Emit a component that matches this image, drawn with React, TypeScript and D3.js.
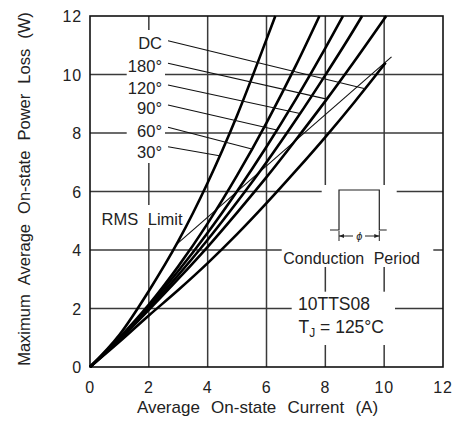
import { useEffect, useRef } from "react";
import * as d3 from "d3";

const currentTicks = [0, 2, 4, 6, 8, 10, 12];
const powerTicks = [0, 2, 4, 6, 8, 10, 12];

// average on-state current (A) -> max average power loss (W)
const curve30 = [[0, 0], [1, 1.1], [2, 2.6], [3, 4.3], [4, 6.3], [5, 8.6], [6, 11.2], [6.3, 12]];
const curve60 = [[0, 0], [1, 1.0], [2, 2.13], [3, 3.44], [4, 4.91], [5, 6.55], [6, 8.35], [7, 10.31], [7.8, 12]];
const curve90 = [[0, 0], [1, 0.97], [2, 2.08], [3, 3.28], [4, 4.59], [5, 6.01], [6, 7.53], [7, 9.16], [8, 10.9], [8.6, 12]];
const curve120 = [[0, 0], [1, 0.95], [2, 2.01], [3, 3.14], [4, 4.35], [5, 5.64], [6, 7.0], [7, 8.45], [8, 9.98], [9, 11.58], [9.25, 12]];
const curve180 = [[0, 0], [1, 0.93], [2, 1.95], [3, 3.01], [4, 4.11], [5, 5.28], [6, 6.49], [7, 7.77], [8, 9.09], [9, 10.47], [10.07, 12]];
const curveDC = [[0, 0], [1, 0.86], [2, 1.76], [3, 2.63], [4, 3.55], [5, 4.54], [6, 5.6], [7, 6.71], [8, 7.86], [9, 9.07], [10.05, 10.4]];

const rmsLimit = [[2.95, 4.2], [10.25, 10.6]];

const curveNames = ["DC", "180°", "120°", "90°", "60°", "30°"];
const curveSeries = [curveDC, curve180, curve120, curve90, curve60, curve30];
// current where each leader line touches its curve
const leaderAt = [9.35, 8.05, 7.14, 6.35, 5.5, 4.4];

const font = "'Liberation Sans', Arial, sans-serif";
const ink = "#222";

// linear read of a curve at current i
function powerAt(curve: number[][], i: number) {
  for (let k = 1; k < curve.length; k++) {
    if (i <= curve[k][0]) {
      const [x0, y0] = curve[k - 1];
      const [x1, y1] = curve[k];
      return y0 + ((i - x0) / (x1 - x0)) * (y1 - y0);
    }
  }
  return curve[curve.length - 1][1];
}

export default function App() {
  const ref = useRef<SVGSVGElement>(null);

  useEffect(() => {
    document.body.style.margin = "0";
    const width = 460;
    const height = 434;
    const margin = { top: 16, right: 17, bottom: 67, left: 90 };

    const svg = d3.select(ref.current).attr("width", width).attr("height", height);
    svg.selectAll("*").remove();

    const x = d3.scaleLinear().domain([0, 12]).range([margin.left, width - margin.right]);
    const y = d3.scaleLinear().domain([0, 12]).range([height - margin.bottom, margin.top]);

    svg.append("rect").attr("width", width).attr("height", height).attr("fill", "#fff");

    // grid
    const grid = svg.append("g").attr("stroke", "#3a3a3a").attr("stroke-width", 1.5);
    grid
      .selectAll("line.v")
      .data(currentTicks.slice(1, -1))
      .enter()
      .append("line")
      .attr("x1", (d) => x(d))
      .attr("x2", (d) => x(d))
      .attr("y1", y(0))
      .attr("y2", y(12));
    grid
      .selectAll("line.h")
      .data(powerTicks.slice(1, -1))
      .enter()
      .append("line")
      .attr("y1", (d) => y(d))
      .attr("y2", (d) => y(d))
      .attr("x1", x(0))
      .attr("x2", x(12));

    // white patches behind the annotations
    const patches = [
      [126.7, 30, 38.3, 133],
      [100, 205, 90, 23],
      [321.7, 185, 75, 56],
      [281.7, 240, 151.6, 27],
      [291.7, 291.7, 103.3, 53.3],
    ];
    svg
      .selectAll("rect.patch")
      .data(patches)
      .enter()
      .append("rect")
      .attr("x", (d) => d[0])
      .attr("y", (d) => d[1])
      .attr("width", (d) => d[2])
      .attr("height", (d) => d[3])
      .attr("fill", "#fff");

    // frame
    svg
      .append("rect")
      .attr("x", x(0))
      .attr("y", y(12))
      .attr("width", x(12) - x(0))
      .attr("height", y(0) - y(12))
      .attr("fill", "none")
      .attr("stroke", "#111")
      .attr("stroke-width", 1.6);

    // tick labels
    svg
      .selectAll("text.xt")
      .data(currentTicks)
      .enter()
      .append("text")
      .attr("x", (d) => x(d))
      .attr("y", y(0) + 25.5)
      .attr("text-anchor", "middle")
      .attr("font-family", font)
      .attr("font-size", 16)
      .attr("letter-spacing", 0.8)
      .attr("fill", ink)
      .text((d) => d);
    svg
      .selectAll("text.yt")
      .data(powerTicks)
      .enter()
      .append("text")
      .attr("x", 82)
      .attr("y", (d) => y(d) + 6)
      .attr("text-anchor", "end")
      .attr("font-family", font)
      .attr("font-size", 16)
      .attr("letter-spacing", 0.8)
      .attr("fill", ink)
      .text((d) => d);

    // axis titles
    svg
      .append("text")
      .attr("x", 257.5)
      .attr("y", 413)
      .attr("text-anchor", "middle")
      .attr("font-family", font)
      .attr("font-size", 17)
      .attr("word-spacing", 6.5)
      .attr("fill", ink)
      .text("Average On-state Current (A)");
    svg
      .append("text")
      .attr("transform", "rotate(-90)")
      .attr("x", -189)
      .attr("y", 30)
      .attr("text-anchor", "middle")
      .attr("font-family", font)
      .attr("font-size", 16.5)
      .attr("word-spacing", 5.5)
      .attr("fill", ink)
      .text("Maximum Average On-state Power Loss (W)");

    // RMS limit
    const line = d3
      .line<number[]>()
      .x((d) => x(d[0]))
      .y((d) => y(d[1]));
    svg
      .append("path")
      .datum(rmsLimit)
      .attr("fill", "none")
      .attr("stroke", "#111")
      .attr("stroke-width", 1.1)
      .attr("d", line);

    // loss curves
    const smooth = d3
      .line<number[]>()
      .curve(d3.curveMonotoneX)
      .x((d) => x(d[0]))
      .y((d) => y(d[1]));
    svg
      .selectAll("path.curve")
      .data(curveSeries)
      .enter()
      .append("path")
      .attr("fill", "none")
      .attr("stroke", "#000")
      .attr("stroke-width", 2.6)
      .attr("stroke-linejoin", "round")
      .attr("d", smooth);

    // curve labels and leaders
    const labelBase = [49, 71.5, 93.8, 114.3, 137.3, 158.3];
    const leaderStart = [40.7, 63.3, 85, 105, 127.3, 146.7];
    curveNames.forEach((name, i) => {
      svg
        .append("text")
        .attr("x", 162)
        .attr("y", labelBase[i])
        .attr("text-anchor", "end")
        .attr("font-family", font)
        .attr("font-size", 16.5)
        .attr("fill", ink)
        .text(name);
      svg
        .append("line")
        .attr("x1", 168)
        .attr("y1", leaderStart[i])
        .attr("x2", x(leaderAt[i]))
        .attr("y2", y(powerAt(curveSeries[i], leaderAt[i])))
        .attr("stroke", "#111")
        .attr("stroke-width", 1.1);
    });

    svg
      .append("text")
      .attr("x", 101.5)
      .attr("y", 224.5)
      .attr("font-family", font)
      .attr("font-size", 16.5)
      .attr("word-spacing", 5)
      .attr("fill", ink)
      .text("RMS Limit");

    // conduction period inset
    const inset = svg.append("g").attr("transform", "translate(330,190)");
    inset
      .append("path")
      .attr("d", "M0,40H9V0H49.3V40H56.7")
      .attr("fill", "none")
      .attr("stroke", ink)
      .attr("stroke-width", 1.2);
    inset
      .append("path")
      .attr("d", "M9,41V51M49.3,41V51M9,46H23M35,46H49.3")
      .attr("fill", "none")
      .attr("stroke", ink)
      .attr("stroke-width", 1);
    inset
      .append("path")
      .attr("d", "M9,46l5,-2v4zM49.3,46l-5,-2v4z")
      .attr("fill", ink);
    inset
      .append("text")
      .attr("x", 29.2)
      .attr("y", 50)
      .attr("text-anchor", "middle")
      .attr("font-family", font)
      .attr("font-style", "italic")
      .attr("font-size", 11)
      .attr("fill", ink)
      .text("ϕ");

    svg
      .append("text")
      .attr("x", 283.3)
      .attr("y", 263.5)
      .attr("font-family", font)
      .attr("font-size", 16)
      .attr("word-spacing", 5)
      .attr("fill", ink)
      .text("Conduction Period");

    svg
      .append("text")
      .attr("x", 298)
      .attr("y", 310)
      .attr("font-family", font)
      .attr("font-size", 17.5)
      .attr("fill", ink)
      .text("10TTS08");

    const tj = svg
      .append("text")
      .attr("x", 298.5)
      .attr("y", 333.3)
      .attr("font-family", font)
      .attr("font-size", 17.5)
      .attr("fill", ink);
    tj.append("tspan").text("T");
    tj.append("tspan").attr("font-size", 12).attr("dy", 4).text("J");
    tj.append("tspan").attr("dy", -4).text(" = 125°C");
  }, []);

  return <svg ref={ref} style={{ display: "block" }} />;
}
